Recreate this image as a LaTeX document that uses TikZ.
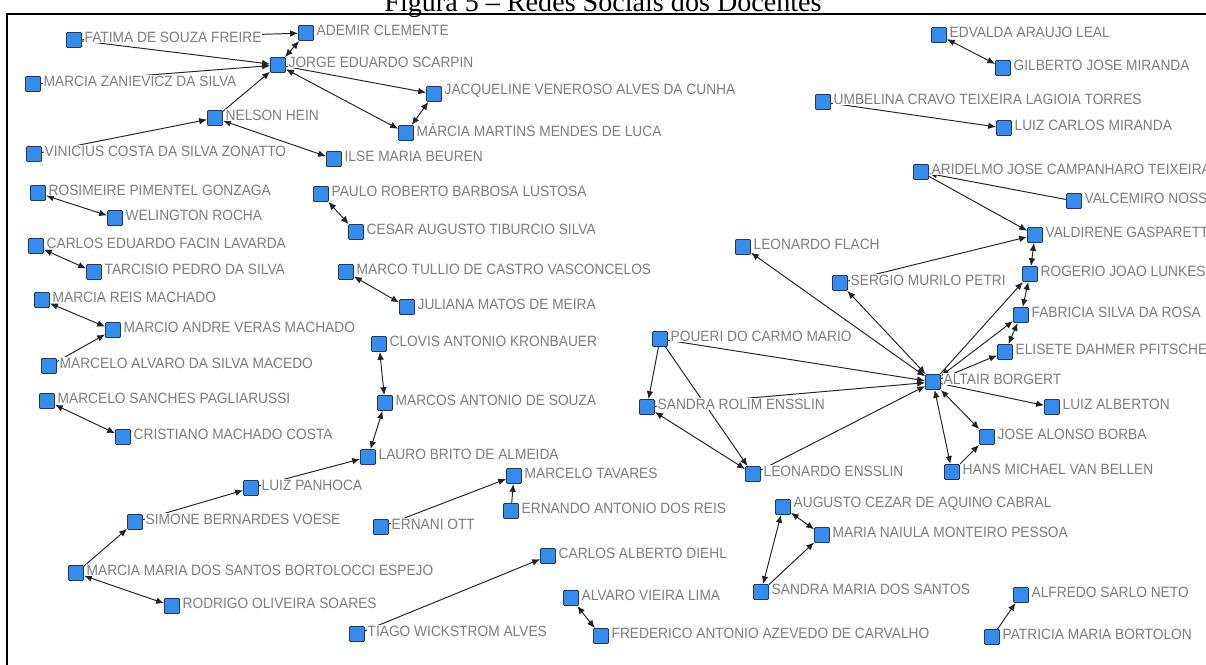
\documentclass[tikz,border=0pt]{standalone}
\usepackage{fontspec}
\setmainfont{Liberation Serif}
\newfontfamily\nomefont[FakeStretch=0.92]{Liberation Sans}
\usetikzlibrary{arrows.meta,backgrounds}
\definecolor{azul}{RGB}{52,140,238}
\definecolor{borda}{RGB}{35,55,95}
\definecolor{cinza}{RGB}{125,125,125}
\definecolor{traco}{RGB}{35,35,35}
\tikzset{
  docente/.style={draw=borda, fill=azul, rounded corners=0.6pt, minimum size=0.3cm, inner sep=0pt, line width=0.5pt},
  nome/.style={font=\nomefont\fontsize{8.5}{10}\selectfont, text=cinza, fill=white, inner sep=0.5pt, label distance=0.03cm, yshift=0.06cm},
  liga/.style={draw=traco, line width=0.55pt, -{Latex[length=4.5pt,width=3.8pt]}},
  ligadupla/.style={liga, {Latex[length=4.5pt,width=3.8pt]}-{Latex[length=4.5pt,width=3.8pt]}}
}
\begin{document}
\begin{tikzpicture}[x=0.02cm, y=-0.02cm]
  \useasboundingbox (0,0) rectangle (1206,664);
  \node[font=\fontsize{16}{18}\selectfont, anchor=base] (titulo) at (603,11) {Figura 5 – Redes Sociais dos Docentes};
  \draw[line width=0.9pt] (7,670) -- (7,14) -- (1215,14);
  \foreach \n/\x/\y/\t in {
    fat/74/40/FATIMA DE SOUZA FREIRE, ade/306/33/ADEMIR CLEMENTE,
    jor/278/65/JORGE EDUARDO SCARPIN, mzs/33/84/MARCIA ZANIEVICZ DA SILVA,
    jac/434/94/JACQUELINE VENEROSO ALVES DA CUNHA, nel/215/118/NELSON HEIN,
    mml/406/133/MÁRCIA MARTINS MENDES DE LUCA, vin/34/154/VINICIUS COSTA DA SILVA ZONATTO,
    ils/334/159/ILSE MARIA BEUREN, ros/38/193/ROSIMEIRE PIMENTEL GONZAGA,
    wel/115/218/WELINGTON ROCHA, pau/321/194/PAULO ROBERTO BARBOSA LUSTOSA,
    ces/356/232/CESAR AUGUSTO TIBURCIO SILVA, cef/36/246/CARLOS EDUARDO FACIN LAVARDA,
    tar/94/272/TARCISIO PEDRO DA SILVA, mtv/346/272/MARCO TULLIO DE CASTRO VASCONCELOS,
    jul/407/307/JULIANA MATOS DE MEIRA, mrm/42/300/MARCIA REIS MACHADO,
    mav/113/330/MARCIO ANDRE VERAS MACHADO, mas/49/366/MARCELO ALVARO DA SILVA MACEDO,
    clo/379/344/CLOVIS ANTONIO KRONBAUER, mar/385/403/MARCOS ANTONIO DE SOUZA,
    msp/47/401/MARCELO SANCHES PAGLIARUSSI, cri/123/437/CRISTIANO MACHADO COSTA,
    lau/368/457/LAURO BRITO DE ALMEIDA, pan/251/488/LUIZ PANHOCA,
    sim/135/522/SIMONE BERNARDES VOESE, mme/76/573/MARCIA MARIA DOS SANTOS BORTOLOCCI ESPEJO,
    rod/172/606/RODRIGO OLIVEIRA SOARES, ott/381/527/ERNANI OTT,
    tav/514/476/MARCELO TAVARES, ern/511/511/ERNANDO ANTONIO DOS REIS,
    die/548/556/CARLOS ALBERTO DIEHL, tia/357/634/TIAGO WICKSTROM ALVES,
    alv/571/598/ALVARO VIEIRA LIMA, fre/601/636/FREDERICO ANTONIO AZEVEDO DE CARVALHO,
    pou/660/339/POUERI DO CARMO MARIO, srn/647/407/SANDRA ROLIM ENSSLIN,
    len/753/474/LEONARDO ENSSLIN, alt/933/382/ALTAIR BORGERT,
    lfl/743/247/LEONARDO FLACH, ser/840/283/SERGIO MURILO PETRI,
    han/952/472/HANS MICHAEL VAN BELLEN, jab/987/437/JOSE ALONSO BORBA,
    lal/1052/407/LUIZ ALBERTON, eli/1005/352/ELISETE DAHMER PFITSCHER,
    fab/1021/315/FABRICIA SILVA DA ROSA, rog/1030/274/ROGERIO JOAO LUNKES,
    val/1035/235/VALDIRENE GASPARETTO, vac/1074/201/VALCEMIRO NOSSA,
    ari/921/172/ARIDELMO JOSE CAMPANHARO TEIXEIRA, edv/939/35/EDVALDA ARAUJO LEAL,
    gil/1003/68/GILBERTO JOSE MIRANDA, umb/823/102/UMBELINA CRAVO TEIXEIRA LAGIOIA TORRES,
    lcm/1004/128/LUIZ CARLOS MIRANDA, aug/783/507/AUGUSTO CEZAR DE AQUINO CABRAL,
    mnp/822/535/MARIA NAIULA MONTEIRO PESSOA, sms/761/592/SANDRA MARIA DOS SANTOS,
    alf/1021/595/ALFREDO SARLO NETO, pat/992/637/PATRICIA MARIA BORTOLON}
    \node[docente, label={[nome]right:\t}] (\n) at (\x,\y) {};
  \begin{pgfonlayer}{background}
    \foreach \a/\b in {fat/ade, fat/jor, mzs/jor, nel/jor, jor/jac, vin/nel, mas/mav,
      pan/lau, sim/pan, mme/sim, ott/tav, ern/tav, tia/die, pou/srn, pou/len, pou/alt,
      srn/alt, len/alt, ser/val, ari/val, vac/ari, alt/rog, alt/eli, alt/lal, han/jab,
      umb/lcm, sms/mnp, pat/alf}
      \draw[liga] (\a) -- (\b);
    \foreach \a/\b in {ade/jor, jor/mml, mml/jac, nel/ils, ros/wel, pau/ces, cef/tar,
      mtv/jul, mrm/mav, clo/mar, mar/lau, msp/cri, mme/rod, alv/fre, srn/len, alt/lfl,
      alt/ser, val/rog, rog/fab, alt/fab, fab/eli, alt/jab, alt/han, edv/gil, aug/mnp,
      aug/sms}
      \draw[ligadupla] (\a) -- (\b);
  \end{pgfonlayer}
\end{tikzpicture}
\end{document}
